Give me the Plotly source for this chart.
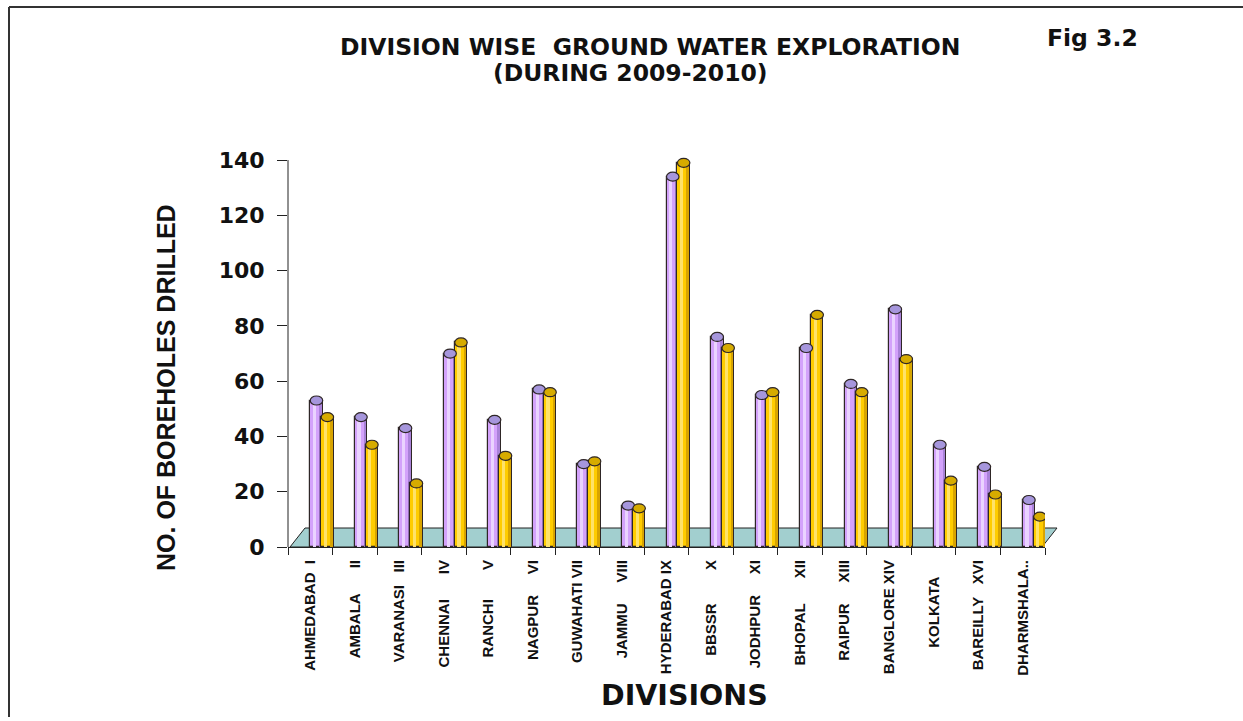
import plotly.graph_objects as go

# ---- data -------------------------------------------------------------
NBSP = "\u00a0"

divisions = [
    "AHMEDABAD  I", "AMBALA      II", "VARANASI   III", "CHENNAI      IV",
    "RANCHI       V", "NAGPUR     VI", "GUWAHATI VII", "JAMMU     VIII",
    "HYDERABAD IX", "BBSSR        X", "JODHPUR     XI", "BHOPAL      XII",
    "RAIPUR     XIII", "BANGLORE XIV", "KOLKATA    ", "BAREILLY   XVI",
    "DHARMSHALA..",
]
series_a = [53, 47, 43, 70, 46, 57, 30, 15, 134, 76, 55, 72, 59, 86, 37, 29, 17]
series_b = [47, 37, 23, 74, 33, 56, 31, 14, 139, 72, 56, 84, 56, 68, 24, 19, 11]

y_ticks = [0, 20, 40, 60, 80, 100, 120, 140]

# ---- styling ----------------------------------------------------------
W, H = 1243, 721
Y_TOP = 140                              # last labelled value on the axis
Y_MAX = 144                              # headroom so the tallest cap is not clipped
SCALE = (547 - 160) / Y_TOP              # px per unit
L, R, B = 288, 198, 174
T = round(547 - Y_MAX * SCALE)
PW, PH = W - L - R, H - T - B

PURPLE, PURPLE_DARK, PURPLE_LIGHT, PURPLE_CAP = "#d3a2fb", "#a982d8", "#ead3ff", "#a696dc"
GOLD, GOLD_DARK, GOLD_LIGHT, GOLD_CAP = "#ffcc00", "#d8a400", "#ffe26a", "#d6ab00"
EDGE = "#2e2626"
AXIS = "#222"
FLOOR = "#a2cfcf"

BAR_W = 0.28
OFF_A, OFF_B = 0.0, 0.245
CAP_H = 9 / (PH / Y_MAX)                  # cap ellipse height in data units

labels = [s.replace(" ", NBSP) for s in divisions]
idx = list(range(len(labels)))


def px_to_paper(px, py):
    return (px - L) / PW, (H - B - py) / PH


fig = go.Figure()


def add_cylinder_series(values, off, body, dark, light):
    fig.add_trace(go.Bar(
        x=labels, y=values, offset=off, width=BAR_W,
        marker=dict(color=body, line=dict(color=EDGE, width=1.2)),
        hoverinfo="y", showlegend=False,
    ))
    fig.add_trace(go.Bar(
        x=labels, y=values, offset=off + BAR_W - 0.08, width=0.055,
        marker=dict(color=dark, line=dict(width=0)),
        hoverinfo="skip", showlegend=False,
    ))
    fig.add_trace(go.Bar(
        x=labels, y=values, offset=off + 0.06, width=0.07,
        marker=dict(color=light, line=dict(width=0)),
        hoverinfo="skip", showlegend=False,
    ))


add_cylinder_series(series_a, OFF_A, PURPLE, PURPLE_DARK, PURPLE_LIGHT)
add_cylinder_series(series_b, OFF_B, GOLD, GOLD_DARK, GOLD_LIGHT)

shapes = []

# floor of the chart (drawn beneath the columns)
fl, fb = px_to_paper(290, 547)
fr, _ = px_to_paper(1042, 547)
br, bt = px_to_paper(1057, 528)
bl, _ = px_to_paper(305, 528)
shapes.append(dict(
    type="path", xref="paper", yref="paper", layer="below",
    path=f"M {fl} {fb} L {fr} {fb} L {br} {bt} L {bl} {bt} Z",
    fillcolor=FLOOR, line=dict(color="#222", width=1),
))

# value axis line, stopping at the last tick
shapes.append(dict(type="line", xref="paper", yref="y", layer="above",
                   x0=0, x1=0, y0=0, y1=Y_TOP, line=dict(color=AXIS, width=1)))

# elliptical tops of the cylinders
for values, off, cap in ((series_a, OFF_A, PURPLE_CAP), (series_b, OFF_B, GOLD_CAP)):
    for i, v in zip(idx, values):
        shapes.append(dict(
            type="circle", xref="x", yref="y", layer="above",
            x0=i + off, x1=i + off + BAR_W,
            y0=v - CAP_H / 2, y1=v + CAP_H / 2,
            fillcolor=cap, line=dict(color=EDGE, width=1.2),
        ))

# page frame
shapes.append(dict(type="line", xref="paper", yref="paper",
                   x0=px_to_paper(9, 0)[0], x1=px_to_paper(W, 0)[0],
                   y0=px_to_paper(0, 7)[1], y1=px_to_paper(0, 7)[1],
                   line=dict(color="#333", width=2)))
shapes.append(dict(type="line", xref="paper", yref="paper",
                   x0=px_to_paper(9, 0)[0], x1=px_to_paper(9, 0)[0],
                   y0=px_to_paper(0, 7)[1], y1=px_to_paper(0, 717)[1],
                   line=dict(color="#333", width=2)))

TITLE_FONT = "DejaVu Sans"
ARIAL = "Liberation Sans, Arial, sans-serif"


def text_at(px, py, text, size, family, angle=0):
    x, y = px_to_paper(px, py)
    return dict(x=x, y=y, xref="paper", yref="paper", text=text, showarrow=False,
                textangle=angle, xanchor="center", yanchor="middle",
                font=dict(family=family, size=size, color="#111", weight="bold"))


annotations = [
    text_at(650, 47, "DIVISION WISE" + NBSP * 2 + "GROUND WATER EXPLORATION", 23.5, TITLE_FONT),
    text_at(630, 73, "(DURING" + NBSP + "2009-2010)", 23.5, TITLE_FONT),
    text_at(1092, 38, "Fig 3.2", 23.5, TITLE_FONT),
    text_at(166, 388, "NO. OF BOREHOLES DRILLED", 25, ARIAL, angle=-90),
    text_at(684, 695, "DIVISIONS", 28.5, TITLE_FONT),
]

fig.update_layout(
    width=W, height=H,
    margin=dict(l=L, r=R, t=T, b=B, pad=0),
    paper_bgcolor="white", plot_bgcolor="rgba(0,0,0,0)",
    barmode="overlay", bargap=0,
    shapes=shapes, annotations=annotations,
    showlegend=False,
    xaxis=dict(
        type="category", range=[-0.5, len(labels) - 0.5],
        tickson="boundaries", ticks="outside", ticklen=7, tickcolor=AXIS,
        showline=True, linecolor=AXIS, linewidth=1,
        showgrid=False, zeroline=False,
        tickangle=-90, ticklabelstandoff=6,
        tickfont=dict(family=ARIAL, size=15, color="#111", weight="bold"),
    ),
    yaxis=dict(
        range=[0, Y_MAX], tickmode="array", tickvals=y_ticks,
        ticks="outside", ticklen=10, tickcolor=AXIS,
        showline=False,
        showgrid=False, zeroline=False, ticklabelstandoff=8,
        tickfont=dict(family=TITLE_FONT, size=22, color="#111", weight="bold"),
    ),
)

fig.write_html("out.html")
